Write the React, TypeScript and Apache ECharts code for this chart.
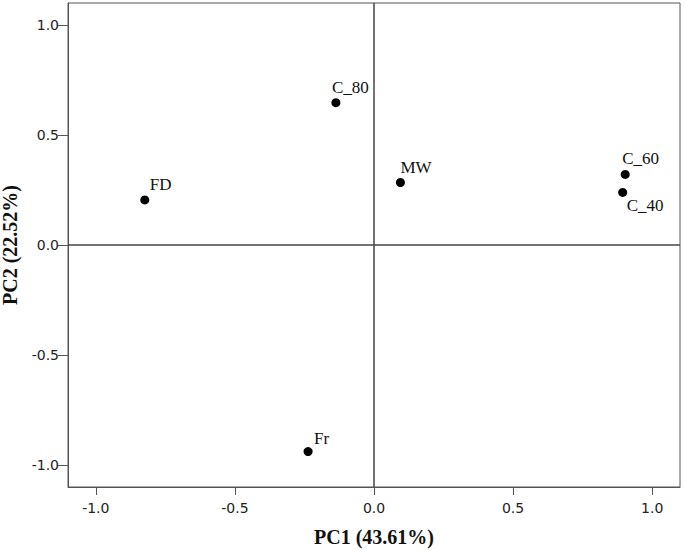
import React, { useEffect, useRef } from "react";
import * as echarts from "echarts";

const names = ["C_80", "MW", "FD", "C_60", "C_40", "Fr"];
const pc1 = [-0.137, 0.095, -0.824, 0.903, 0.894, -0.237];
const pc2 = [0.647, 0.284, 0.205, 0.321, 0.239, -0.939];
const xTicks = [-1.0, -0.5, 0.0, 0.5, 1.0];
const yTicks = [-1.0, -0.5, 0.0, 0.5, 1.0];
const xTitle = "PC1 (43.61%)";
const yTitle = "PC2 (22.52%)";

// label placement (pixel offsets from dot centre), style only
const labelPos: Record<string, { dx: number; dy: number; va: string }> = {
  C_80: { dx: -4, dy: -7, va: "bottom" },
  MW: { dx: 0, dy: -7, va: "bottom" },
  FD: { dx: 5, dy: -7, va: "bottom" },
  C_60: { dx: -3, dy: -7, va: "bottom" },
  C_40: { dx: 4, dy: 5, va: "top" },
  Fr: { dx: 6, dy: -5, va: "bottom" },
};

export default function App() {
  const ref = useRef<HTMLDivElement>(null);
  useEffect(() => {
    if (!ref.current) return;
    const chart = echarts.init(ref.current, undefined, { renderer: "svg" });
    const sym = 9;
    const data = names.map((n, i) => {
      const p = labelPos[n];
      return {
        name: n,
        value: [pc1[i], pc2[i]],
        label: {
          show: true,
          formatter: n,
          position: [sym / 2 + p.dx, sym / 2 + p.dy],
          align: "left",
          verticalAlign: p.va,
        },
      };
    });
    const fmt = (v: number) => (Math.round(v * 10) / 10).toFixed(1);
    chart.setOption({
      animation: false,
      backgroundColor: "#ffffff",
      grid: {
        left: 68,
        top: 3,
        right: 5,
        bottom: 63,
        containLabel: false,
        outerBoundsMode: "none",
        show: true,
        borderColor: "#555",
        borderWidth: 1,
        backgroundColor: "transparent",
      },
      xAxis: {
        type: "value",
        min: -1.1,
        max: 1.1,
        name: xTitle,
        nameLocation: "middle",
        nameGap: 40,
        nameTextStyle: {
          fontFamily: "Liberation Serif",
          fontWeight: "bold",
          fontSize: 20,
          color: "#111",
        },
        axisLine: { show: true, onZero: false, lineStyle: { color: "#555", width: 1 } },
        axisTick: {
          show: true,
          length: 8,
          lineStyle: { color: "#555" },
          customValues: xTicks,
        },
        axisLabel: {
          customValues: xTicks,
          formatter: fmt,
          fontFamily: "DejaVu Sans",
          fontSize: 14,
          color: "#222",
          margin: 14,
        },
        splitLine: { show: false },
      },
      yAxis: {
        type: "value",
        min: -1.1,
        max: 1.1,
        name: yTitle,
        nameLocation: "middle",
        nameGap: 48,
        nameRotate: 90,
        nameTextStyle: {
          fontFamily: "Liberation Serif",
          fontWeight: "bold",
          fontSize: 20,
          color: "#111",
        },
        axisLine: { show: true, onZero: false, lineStyle: { color: "#555", width: 1 } },
        axisTick: {
          show: true,
          length: 10,
          lineStyle: { color: "#555" },
          customValues: yTicks,
        },
        axisLabel: {
          customValues: yTicks,
          formatter: fmt,
          fontFamily: "DejaVu Sans",
          fontSize: 14,
          color: "#222",
          margin: 9,
        },
        splitLine: { show: false },
      },
      series: [
        {
          type: "scatter",
          symbol: "circle",
          symbolSize: sym,
          itemStyle: { color: "#000", opacity: 1 },
          label: {
            fontFamily: "Liberation Serif",
            fontSize: 17,
            color: "#111",
          },
          data,
          markLine: {
            silent: true,
            symbol: "none",
            label: { show: false },
            lineStyle: { color: "#444", width: 1.5, type: "solid" },
            data: [{ xAxis: 0 }, { yAxis: 0 }],
          },
        },
      ],
    });
    return () => chart.dispose();
  }, []);
  return (
    <div
      ref={ref}
      style={{ width: 685, height: 550, position: "fixed", left: 0, top: 0 }}
    />
  );
}
